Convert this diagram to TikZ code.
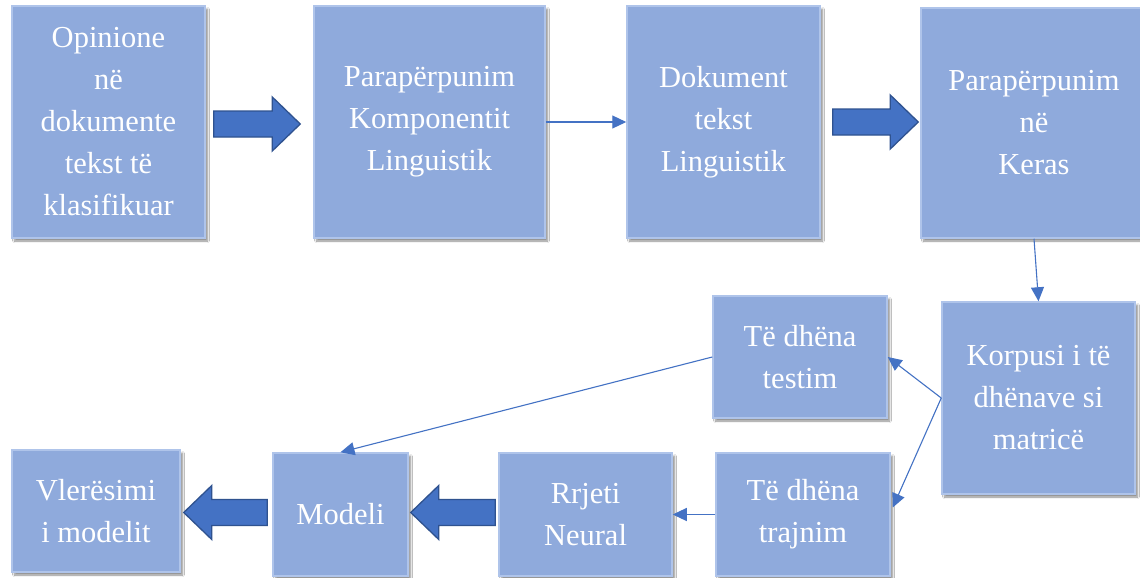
\documentclass[tikz,border=0pt]{standalone}
\usepackage{fontspec}
\setmainfont{Liberation Serif}
\usetikzlibrary{calc,arrows.meta,shadows.blur}
\definecolor{boxfill}{HTML}{8FAADC}
\definecolor{boxline}{HTML}{AFC4EA}
\definecolor{accent}{HTML}{4472C4}
\definecolor{accentdark}{HTML}{2F528F}
\tikzset{
  stage/.style={rectangle, inner sep=0pt, fill=boxfill, draw=boxline, line width=1.5pt,
    text=white, align=center, font=\fontsize{30.5}{42}\selectfont,
    blur shadow={shadow xshift=2.5pt, shadow yshift=-3pt, shadow blur steps=6, shadow opacity=45}},
  link/.style={draw=accent, line width=1.1pt, -{Triangle[length=14pt,width=13pt]}, color=accent},
  fat/.style={fill=accent, draw=accentdark, line width=1.3pt, line join=miter}
}
% thick block arrow from #1 (tail) to #2 (tip)
\newcommand\fatarrow[2]{%
  \path let \p1=(#1), \p2=(#2), \p3=($(#2)!28pt!(#1)$) in
    coordinate (fa1) at (\x1,\y1) coordinate (fa2) at (\x2,\y2) coordinate (fa3) at (\x3,\y3);
  \draw[fat] ($(fa1)+(0,13)$) -- ($(fa3)+(0,13)$) -- ($(fa3)+(0,27)$) -- (fa2)
    -- ($(fa3)+(0,-27)$) -- ($(fa3)+(0,-13)$) -- ($(fa1)+(0,-13)$) -- cycle;}
\begin{document}
\begin{tikzpicture}[x=1pt,y=-1pt]
\useasboundingbox (0,0) rectangle (1140,578);
\fill[white] (0,0) rectangle (1140,578);
% top row
\node[stage, minimum width=193, minimum height=232] (src) at (108.5,122)
  {Opinione\\në\\dokumente\\tekst të\\klasifikuar};
\node[stage, minimum width=231, minimum height=232] (prep) at (429.5,122)
  {Parapërpunim\\Komponentit\\Linguistik};
\node[stage, minimum width=193, minimum height=232] (doc) at (723.5,122)
  {Dokument\\tekst\\Linguistik};
\node[stage, minimum width=226, minimum height=230] (keras) at (1034,123)
  {Parapërpunim\\në\\Keras};
% right column
\node[stage, minimum width=193, minimum height=192] (corp) at (1038.5,398)
  {Korpusi i të\\dhënave si\\matricë};
\node[stage, minimum width=174, minimum height=122] (test) at (800,357)
  {Të dhëna\\testim};
% bottom row
\node[stage, minimum width=174, minimum height=123] (train) at (803,514.5)
  {Të dhëna\\trajnim};
\node[stage, minimum width=173, minimum height=123] (nn) at (585.5,514.5)
  {Rrjeti\\Neural};
\node[stage, minimum width=135, minimum height=123] (model) at (340.5,514.5)
  {Modeli};
\node[stage, minimum width=168, minimum height=122] (eval) at (96,511)
  {Vlerësimi\\i modelit};
% block arrows
\fatarrow{$(src.east)+(8,2)$}{$(prep.west)+(-13,2)$}
\fatarrow{$(doc.east)+(12,0)$}{$(keras.west)+(-2,-1)$}
\fatarrow{$(nn.west)+(-3,-2)$}{$(model.east)+(2,-2)$}
\fatarrow{$(model.west)+(-5,-2)$}{$(eval.east)+(3,1.5)$}
% thin connectors
\draw[link] (prep.east) -- (doc.west);
\draw[link] (keras.south) -- (corp.north);
\draw[link] (corp.west) -- (test.east);
\draw[link] (corp.west) -- ($(train.east)+(2,-7)$);
\draw[link] (test.west) -- (model.north);
\draw[link] (train.west) -- (nn.east);
\end{tikzpicture}
\end{document}
